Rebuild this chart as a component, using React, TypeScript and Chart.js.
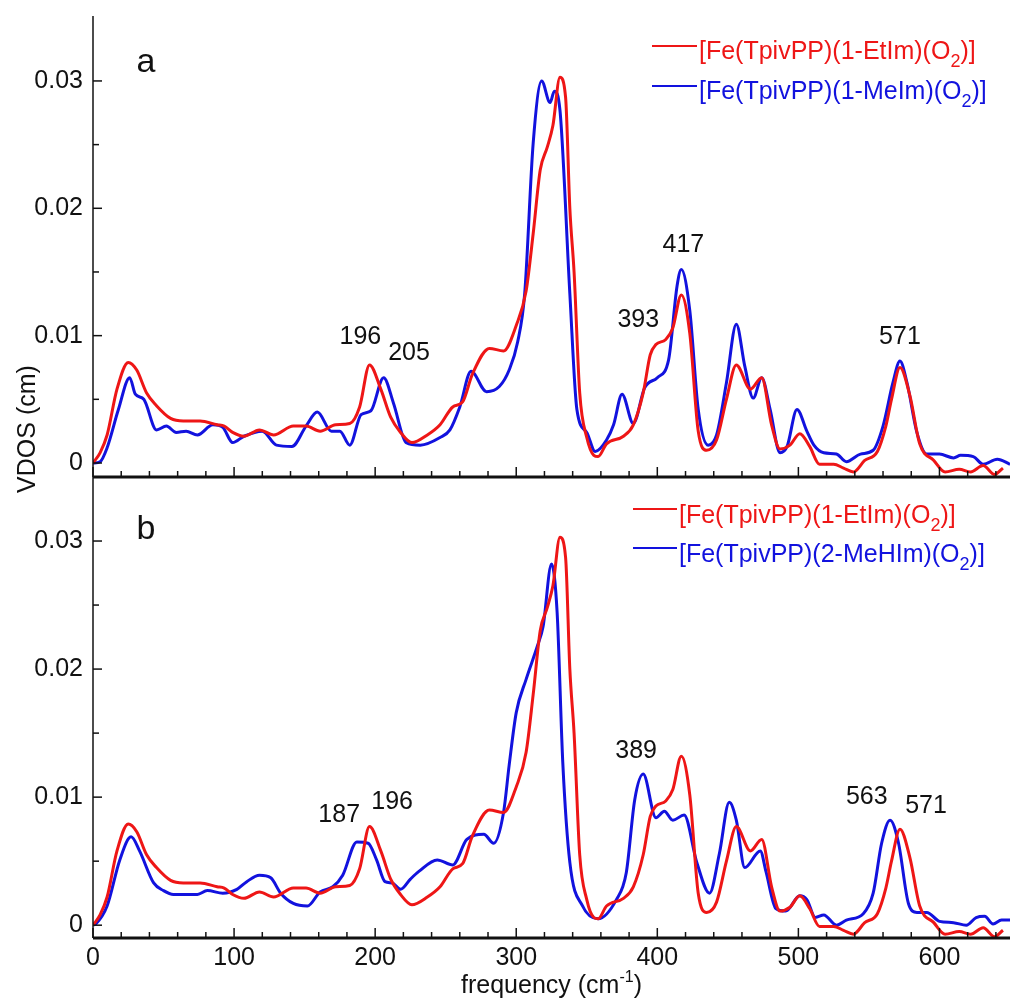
import React, { useEffect, useRef } from 'react';
import { Chart, registerables } from 'chart.js';

Chart.register(...registerables);

// ---------------- data ----------------
// [Fe(TpivPP)(1-EtIm)(O2)]  (red, shown in both panels)
const etImFreq = [0, 5, 10, 17, 25, 31, 38, 45, 55, 64, 76, 88, 93, 99, 107, 118, 128, 142, 151, 161, 172, 182, 189, 196, 204, 211, 218, 226, 237, 246, 255, 262, 269, 281, 291, 300, 307, 312, 317, 322, 326, 331, 335, 338, 341, 345, 350, 355, 358, 364, 376, 383, 390, 395, 399, 406, 411, 417, 423, 429, 435, 442, 449, 456, 466, 474, 481, 487, 494, 501, 508, 515, 525, 532, 539, 547, 556, 562, 566, 572, 579, 586, 596, 604, 614, 622, 631, 639, 645];
const etImVdos = [0, 0.0008, 0.0022, 0.0058, 0.0079, 0.0073, 0.0055, 0.0045, 0.0035, 0.0033, 0.0033, 0.0030, 0.0029, 0.0024, 0.0021, 0.0026, 0.0022, 0.0029, 0.0029, 0.0025, 0.0030, 0.0031, 0.0044, 0.0077, 0.0058, 0.0036, 0.0024, 0.0016, 0.0022, 0.0030, 0.0044, 0.0048, 0.0070, 0.0090, 0.0088, 0.0108, 0.0135, 0.0180, 0.0230, 0.0248, 0.0265, 0.0303, 0.0287, 0.0200, 0.0150, 0.0055, 0.0020, 0.0006, 0.0005, 0.0015, 0.0021, 0.0030, 0.0055, 0.0085, 0.0093, 0.0097, 0.0106, 0.0132, 0.0102, 0.0025, 0.0010, 0.0018, 0.0050, 0.0077, 0.0058, 0.0067, 0.0030, 0.0011, 0.0014, 0.0023, 0.0013, -0.0001, -0.0001, -0.0004, -0.0007, 0.0002, 0.0009, 0.0029, 0.0050, 0.0075, 0.0053, 0.0015, 0.0002, -0.0007, -0.0005, -0.0007, -0.0002, -0.0009, -0.0004];

// [Fe(TpivPP)(1-MeIm)(O2)]  (blue, panel a)
const meImFreq = [0, 5, 10, 18, 26, 30, 36, 45, 52, 59, 66, 74, 85, 92, 99, 107, 120, 130, 141, 151, 159, 169, 175, 182, 190, 197, 206, 213, 222, 232, 246, 253, 260, 268, 279, 288, 295, 301, 306, 312, 318, 324, 327, 331, 338, 343, 350, 356, 364, 369, 375, 383, 391, 400, 408, 414, 417, 423, 429, 436, 442, 449, 456, 462, 468, 474, 480, 487, 492, 499, 506, 511, 518, 527, 534, 544, 553, 560, 567, 572, 577, 584, 591, 600, 610, 615, 624, 631, 641, 650];
const meImVdos = [0, 0.0001, 0.0012, 0.0042, 0.0067, 0.0054, 0.0050, 0.0026, 0.0029, 0.0024, 0.0025, 0.0022, 0.0030, 0.0028, 0.0016, 0.0021, 0.0025, 0.0014, 0.0013, 0.0029, 0.0040, 0.0025, 0.0025, 0.0014, 0.0038, 0.0041, 0.0067, 0.0047, 0.0016, 0.0014, 0.0020, 0.0026, 0.0044, 0.0072, 0.0056, 0.0060, 0.0073, 0.0095, 0.0133, 0.0251, 0.0300, 0.0283, 0.0292, 0.0277, 0.0133, 0.0042, 0.0024, 0.0009, 0.0018, 0.0030, 0.0054, 0.0031, 0.0059, 0.0067, 0.0081, 0.0139, 0.0152, 0.0120, 0.0042, 0.0014, 0.0022, 0.0063, 0.0109, 0.0076, 0.0051, 0.0067, 0.0042, 0.0008, 0.0013, 0.0042, 0.0025, 0.0014, 0.0008, 0.0007, 0.0001, 0.0007, 0.0010, 0.0029, 0.0063, 0.0080, 0.0063, 0.0024, 0.0007, 0.0007, 0.0004, 0.0006, 0.0005, -0.0001, 0.0003, -0.0001];

// [Fe(TpivPP)(2-MeHIm)(O2)]  (blue, panel b)
const meHImFreq = [0, 2, 10, 19, 27, 33, 43, 50, 57, 74, 81, 92, 102, 109, 118, 126, 133, 142, 152, 161, 170, 177, 187, 195, 201, 207, 212, 218, 225, 231, 244, 255, 265, 277, 284, 291, 295, 300, 307, 315, 319, 325, 329, 333, 338, 347, 358, 371, 378, 384, 390, 399, 405, 411, 419, 428, 437, 444, 451, 456, 462, 473, 477, 484, 491, 501, 506, 512, 518, 527, 534, 546, 553, 559, 565, 571, 578, 584, 591, 600, 610, 619, 626, 632, 638, 644, 650];
const meHImVdos = [0, 0.0001, 0.0015, 0.0051, 0.0069, 0.0058, 0.0033, 0.0027, 0.0024, 0.0024, 0.0027, 0.0025, 0.0028, 0.0034, 0.0039, 0.0037, 0.0025, 0.0017, 0.0015, 0.0026, 0.0030, 0.0039, 0.0065, 0.0064, 0.0051, 0.0034, 0.0033, 0.0028, 0.0036, 0.0042, 0.0051, 0.0047, 0.0067, 0.0071, 0.0064, 0.0088, 0.0125, 0.0166, 0.0192, 0.0218, 0.0233, 0.0282, 0.0244, 0.0127, 0.0049, 0.0015, 0.0005, 0.0020, 0.0041, 0.0098, 0.0118, 0.0084, 0.0089, 0.0082, 0.0086, 0.0049, 0.0025, 0.0056, 0.0096, 0.0082, 0.0045, 0.0058, 0.0042, 0.0013, 0.0011, 0.0023, 0.0020, 0.0006, 0.0008, 0.0000, 0.0004, 0.0009, 0.0025, 0.0064, 0.0082, 0.0064, 0.0017, 0.0010, 0.0010, 0.0003, 0.0002, 0.0000, 0.0006, 0.0007, 0.0001, 0.0004, 0.0004];

// ticks
const xTicks = [0, 20, 40, 60, 80, 100, 120, 140, 160, 180, 200, 220, 240, 260, 280, 300, 320, 340, 360, 380, 400, 420, 440, 460, 480, 500, 520, 540, 560, 580, 600, 620, 640];
const xTickLabels = ['0', '', '', '', '', '100', '', '', '', '', '200', '', '', '', '', '300', '', '', '', '', '400', '', '', '', '', '500', '', '', '', '', '600', '', ''];
const yTicks = [0, 0.005, 0.01, 0.015, 0.02, 0.025, 0.03];
const yTickLabels = ['0', '', '0.01', '', '0.02', '', '0.03'];

// texts
const legendA = ['[Fe(TpivPP)(1-EtIm)(O2)]', '[Fe(TpivPP)(1-MeIm)(O2)]'];
const legendB = ['[Fe(TpivPP)(1-EtIm)(O2)]', '[Fe(TpivPP)(2-MeHIm)(O2)]'];
const peaksA = ['196', '205', '393', '417', '571'];
const peaksB = ['187', '196', '389', '563', '571'];
const panelLetters = ['a', 'b'];
const yTitle = 'VDOS (cm)';
const xTitleMain = 'frequency (cm';
const xTitleSup = '-1';
const xTitleEnd = ')';

// ---------------- layout / style ----------------
const RED = 'rgb(238,22,22)';
const BLUE = 'rgb(18,18,222)';
const INK = '#111';
const FONT = '"Liberation Sans", Arial, Helvetica, sans-serif';
const FS = 25;

// peak label anchors (data coordinates, label centre)
const peaksAPos = [[189.5, 0.0099], [224, 0.0086], [386.5, 0.0112], [418.5, 0.0171], [572, 0.0099]];
const peaksBPos = [[174.5, 0.0086], [212, 0.0096], [385, 0.0136], [548.5, 0.0100], [590.5, 0.0093]];

const toXY = (xs: number[], ys: number[]) => xs.map((x, i) => ({ x, y: ys[i] }));

function richParts(s: string) {
  const i = s.indexOf('(O2)');
  if (i < 0) return [{ t: s, sub: false }];
  return [
    { t: s.slice(0, i + 2), sub: false },
    { t: '2', sub: true },
    { t: s.slice(i + 3), sub: false },
  ];
}

function drawRich(ctx: CanvasRenderingContext2D, s: string, x: number, baseline: number) {
  let cx = x;
  for (const p of richParts(s)) {
    ctx.font = `${p.sub ? 18 : FS}px ${FONT}`;
    ctx.fillText(p.t, cx, baseline + (p.sub ? 8 : 0));
    cx += ctx.measureText(p.t).width;
  }
}

export default function App() {
  const ref = useRef<HTMLCanvasElement>(null);

  useEffect(() => {
    const canvas = ref.current;
    if (!canvas) return;

    const overlay = {
      id: 'overlay',
      afterDraw(chart: any) {
        const ctx: CanvasRenderingContext2D = chart.ctx;
        const area = chart.chartArea;
        const sx = chart.scales.x;
        const panels = [chart.scales.yA, chart.scales.yB];
        ctx.save();
        ctx.strokeStyle = INK;
        ctx.fillStyle = INK;
        // y axis line
        ctx.lineWidth = 1.5;
        ctx.beginPath();
        ctx.moveTo(area.left, area.top);
        ctx.lineTo(area.left, area.bottom);
        ctx.stroke();
        // x axis lines
        ctx.lineWidth = 3;
        for (const ys of panels) {
          ctx.beginPath();
          ctx.moveTo(area.left, ys.bottom);
          ctx.lineTo(area.right, ys.bottom);
          ctx.stroke();
        }
        // inward x ticks
        ctx.lineWidth = 1.5;
        sx.ticks.forEach((t: any, i: number) => {
          const px = sx.getPixelForValue(t.value);
          const len = xTickLabels[i] ? 10 : 6;
          for (const ys of panels) {
            ctx.beginPath();
            ctx.moveTo(px, ys.bottom);
            ctx.lineTo(px, ys.bottom - len);
            ctx.stroke();
          }
        });
        // inward y ticks
        for (const ys of panels) {
          ys.ticks.forEach((t: any, i: number) => {
            const py = ys.getPixelForValue(t.value);
            const len = yTickLabels[i] ? 9 : 6;
            ctx.beginPath();
            ctx.moveTo(area.left, py);
            ctx.lineTo(area.left + len, py);
            ctx.stroke();
          });
        }
        // peak labels
        ctx.font = `${FS}px ${FONT}`;
        ctx.textAlign = 'center';
        ctx.textBaseline = 'middle';
        peaksA.forEach((s, i) => {
          ctx.fillText(s, sx.getPixelForValue(peaksAPos[i][0]), panels[0].getPixelForValue(peaksAPos[i][1]));
        });
        peaksB.forEach((s, i) => {
          ctx.fillText(s, sx.getPixelForValue(peaksBPos[i][0]), panels[1].getPixelForValue(peaksBPos[i][1]));
        });
        // panel letters
        ctx.font = `34px ${FONT}`;
        ctx.textBaseline = 'alphabetic';
        ctx.fillText(panelLetters[0], area.left + 53, panels[0].top + 56);
        ctx.fillText(panelLetters[1], area.left + 53, panels[1].top + 62);
        // legends
        ctx.textAlign = 'left';
        const legends = [
          { labels: legendA, x0: 652, x1: 697, lineY: [46, 86], base: [59, 99] },
          { labels: legendB, x0: 633, x1: 677, lineY: [509, 548], base: [523, 562] },
        ];
        for (const lg of legends) {
          lg.labels.forEach((lab, i) => {
            const col = i === 0 ? RED : BLUE;
            ctx.strokeStyle = col;
            ctx.fillStyle = col;
            ctx.lineWidth = 2;
            ctx.beginPath();
            ctx.moveTo(lg.x0, lg.lineY[i]);
            ctx.lineTo(lg.x1, lg.lineY[i]);
            ctx.stroke();
            drawRich(ctx, lab, lg.x1 + 2, lg.base[i]);
          });
        }
        // axis titles
        ctx.fillStyle = INK;
        ctx.font = `${FS}px ${FONT}`;
        const w1 = ctx.measureText(xTitleMain).width;
        const w3 = ctx.measureText(xTitleEnd).width;
        ctx.font = `16px ${FONT}`;
        const w2 = ctx.measureText(xTitleSup).width;
        const cx = (area.left + area.right) / 2;
        let tx = cx - (w1 + w2 + w3) / 2;
        const tb = 993;
        ctx.font = `${FS}px ${FONT}`;
        ctx.fillText(xTitleMain, tx, tb);
        tx += w1;
        ctx.font = `16px ${FONT}`;
        ctx.fillText(xTitleSup, tx, tb - 11);
        tx += w2;
        ctx.font = `${FS}px ${FONT}`;
        ctx.fillText(xTitleEnd, tx, tb);

        ctx.save();
        ctx.translate(28, 429);
        ctx.rotate(-Math.PI / 2);
        ctx.textAlign = 'center';
        ctx.textBaseline = 'middle';
        ctx.fillText(yTitle, 0, 0);
        ctx.restore();
        ctx.restore();
      },
    };

    const yScale = (min: number, max: number) => ({
      type: 'linear' as const,
      position: 'left' as const,
      stack: 'panels',
      stackWeight: 1,
      min,
      max,
      grid: { display: false },
      border: { display: false },
      afterBuildTicks: (s: any) => {
        s.ticks = yTicks.map((v) => ({ value: v }));
      },
      afterFit: (s: any) => {
        s.width = 93;
        s.paddingTop = 0;
        s.paddingBottom = 0;
      },
      ticks: {
        autoSkip: false,
        padding: 2,
        color: INK,
        font: { family: FONT, size: FS },
        callback: (_v: any, i: number) => yTickLabels[i],
      },
    });

    const lineDs = (label: string, xs: number[], ys: number[], color: string, axis: string) => ({
      label,
      data: toXY(xs, ys),
      yAxisID: axis,
      borderColor: color,
      backgroundColor: color,
      borderWidth: 3,
      pointRadius: 0,
      cubicInterpolationMode: 'monotone' as const,
      fill: false,
    });

    const chart = new Chart(canvas, {
      type: 'line',
      data: {
        datasets: [
          lineDs(legendA[0], etImFreq, etImVdos, RED, 'yA'),
          lineDs(legendA[1], meImFreq, meImVdos, BLUE, 'yA'),
          lineDs(legendB[0], etImFreq, etImVdos, RED, 'yB'),
          lineDs(legendB[1], meHImFreq, meHImVdos, BLUE, 'yB'),
        ],
      },
      options: {
        animation: false,
        responsive: false,
        maintainAspectRatio: false,
        devicePixelRatio: 1,
        layout: { padding: { top: 16, left: 0, right: 0, bottom: 0 } },
        plugins: { legend: { display: false }, tooltip: { enabled: false } },
        scales: {
          x: {
            type: 'linear',
            position: 'bottom',
            min: 0,
            max: 650,
            grid: { display: false },
            border: { display: false },
            afterBuildTicks: (s: any) => {
              s.ticks = xTicks.map((v) => ({ value: v }));
            },
            afterFit: (s: any) => {
              s.height = 67;
              s.paddingLeft = 0;
              s.paddingRight = 0;
            },
            ticks: {
              autoSkip: false,
              maxRotation: 0,
              minRotation: 0,
              padding: -3,
              color: INK,
              font: { family: FONT, size: FS },
              callback: (_v: any, i: number) => xTickLabels[i],
            },
          },
          yB: yScale(-0.001, 0.035),
          yA: yScale(-0.0011, 0.0351),
        } as any,
      },
      plugins: [overlay],
    });

    return () => chart.destroy();
  }, []);

  return (
    <div style={{ position: 'absolute', left: 0, top: 0, width: 1010, height: 1005, background: '#fff', overflow: 'hidden' }}>
      <canvas ref={ref} width={1010} height={1005} style={{ display: 'block', width: 1010, height: 1005 }} />
    </div>
  );
}
